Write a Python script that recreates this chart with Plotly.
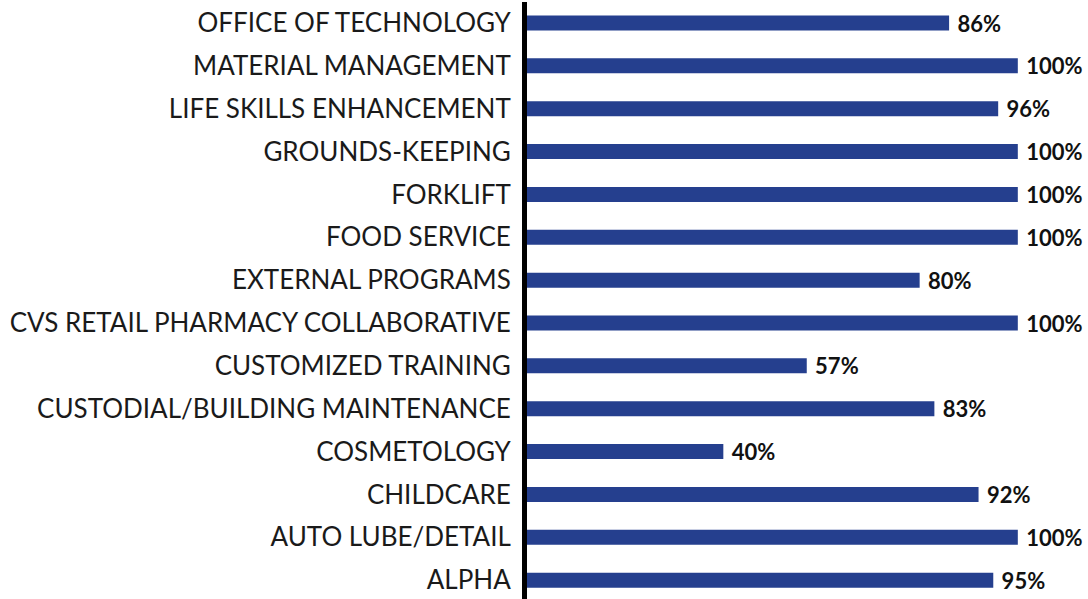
import plotly.graph_objects as go

categories = ["OFFICE OF TECHNOLOGY", "MATERIAL MANAGEMENT", "LIFE SKILLS ENHANCEMENT",
              "GROUNDS-KEEPING", "FORKLIFT", "FOOD SERVICE", "EXTERNAL PROGRAMS",
              "CVS RETAIL PHARMACY COLLABORATIVE", "CUSTOMIZED TRAINING",
              "CUSTODIAL/BUILDING MAINTENANCE", "COSMETOLOGY", "CHILDCARE",
              "AUTO LUBE/DETAIL", "ALPHA"]
values = [86, 100, 96, 100, 100, 100, 80, 100, 57, 83, 40, 92, 100, 95]
labels = [f"\u00a0{v}%" for v in values]

fig = go.Figure(go.Bar(
    x=values, y=categories, orientation="h",
    marker=dict(color="#253F8E", line=dict(width=0)),
    width=0.35,
    text=labels, textposition="outside", cliponaxis=False, constraintext="none",
    textfont=dict(family="Lato, sans-serif", size=22, color="#111111", weight="bold"),
))
fig.update_layout(
    width=1088, height=599,
    margin=dict(l=527, r=0, t=2, b=0),
    paper_bgcolor="white", plot_bgcolor="white",
    showlegend=False,
    xaxis=dict(range=[0, 114.3], visible=False),
    yaxis=dict(range=[13.44, -0.49], showline=True, linecolor="black", linewidth=5,
               showgrid=False, ticks="", ticklabelstandoff=6,
               tickfont=dict(family="Lato, sans-serif", size=26, color="#1a1a1a")),
)
fig.write_html("out.html")
